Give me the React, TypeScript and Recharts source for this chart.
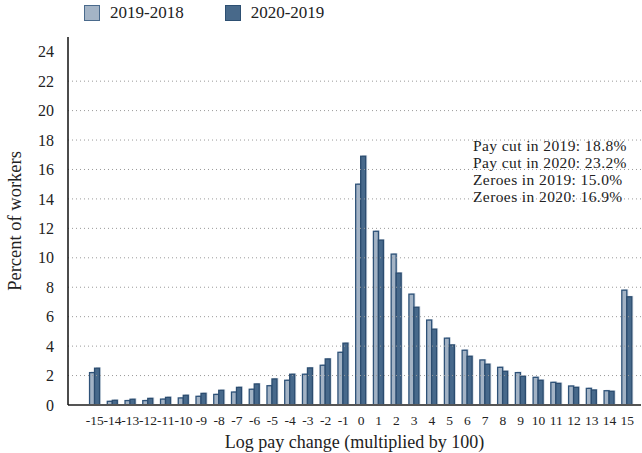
import { BarChart, Bar, XAxis, YAxis, ReferenceLine } from "recharts";

const categories = [
  -15, -14, -13, -12, -11, -10, -9, -8, -7, -6, -5, -4, -3, -2, -1, 0, 1, 2, 3, 4,
  5, 6, 7, 8, 9, 10, 11, 12, 13, 14, 15,
];
const y2019 = [
  2.2, 0.25, 0.3, 0.3, 0.4, 0.48, 0.59, 0.72, 0.88, 1.07, 1.31, 1.68, 2.09, 2.7, 3.58,
  15.0, 11.8, 10.25, 7.53, 5.77, 4.54, 3.72, 3.06, 2.56, 2.2, 1.88, 1.54, 1.29, 1.13,
  0.97, 7.8,
];
const y2020 = [
  2.5, 0.32, 0.39, 0.45, 0.52, 0.66, 0.79, 1.0, 1.2, 1.43, 1.77, 2.09, 2.52, 3.13, 4.2,
  16.9, 11.2, 8.96, 6.64, 5.15, 4.08, 3.31, 2.77, 2.29, 1.95, 1.68, 1.47, 1.2, 1.02,
  0.93, 7.35,
];
const yTicks = [0, 2, 4, 6, 8, 10, 12, 14, 16, 18, 20, 22, 24];
const gridValues = [2, 4, 6, 8, 10, 12, 14, 16, 18, 20, 22];
const notes = [
  "Pay cut in 2019: 18.8%",
  "Pay cut in 2020: 23.2%",
  "Zeroes in 2019: 15.0%",
  "Zeroes in 2020: 16.9%",
];

const data = categories.map((c, i) => ({ cat: String(c), a: y2019[i], b: y2020[i] }));

const FONT = "Liberation Serif";

// bar with a faint offset shadow like the original
function ShadowBar(props: any) {
  const { x, y, width, height, fill, stroke } = props;
  if (!height || height <= 0) return null;
  return (
    <g>
      <rect x={x + 1.5} y={y - 1} width={width} height={height + 1} fill="#d3dbe4" />
      <rect x={x} y={y} width={width} height={height} fill={fill} stroke={stroke} strokeWidth={1.3} />
    </g>
  );
}

export default function App() {
  return (
    <div
      style={{
        position: "absolute",
        left: 0,
        top: 0,
        width: 642,
        height: 453,
        background: "#fff",
        fontFamily: FONT,
      }}
    >
      {/* legend */}
      <div style={{ position: "absolute", left: 84, top: 3, display: "flex", alignItems: "center", fontSize: 17, color: "#222" }}>
        <span style={{ width: 14, height: 14, background: "#a4b4c6", border: "1.5px solid #4a6a8c", marginRight: 10 }} />
        <span style={{ marginRight: 41 }}>2019-2018</span>
        <span style={{ width: 14, height: 14, background: "#48698a", border: "1.5px solid #2d4f72", marginRight: 10 }} />
        <span>2020-2019</span>
      </div>

      <BarChart
        width={642}
        height={453}
        data={data}
        margin={{ top: 37, right: 1, bottom: 0, left: 0 }}
        barCategoryGap="20%"
        barGap={0}
        style={{ fontFamily: FONT }}
      >
        {gridValues.map((v) => (
          <ReferenceLine key={v} y={v} stroke="#9a9a9a" strokeDasharray="1 3" strokeWidth={1} />
        ))}
        <XAxis
          dataKey="cat"
          interval={0}
          height={48}
          padding={{ left: 18, right: 5 }}
          tickLine={false}
          axisLine={{ stroke: "#555", strokeWidth: 2 }}
          tick={{ fontSize: 13.5, fill: "#222" }}
          tickMargin={4}
          label={{
            value: "Log pay change (multiplied by 100)",
            position: "insideBottom",
            offset: 5,
            style: { fontSize: 18, fill: "#222" },
          }}
        />
        <YAxis
          domain={[0, 25]}
          ticks={yTicks}
          width={68}
          tickLine={false}
          axisLine={{ stroke: "#111", strokeWidth: 1.5 }}
          tick={{ fontSize: 16, fill: "#222" }}
          tickMargin={8}
          label={{
            value: "Percent of workers",
            angle: -90,
            position: "insideLeft",
            offset: 14,
            style: { fontSize: 18.5, fill: "#222", textAnchor: "middle" },
          }}
        />
        <Bar dataKey="a" fill="#a3b3c5" stroke="#2e5278" shape={ShadowBar} isAnimationActive={false} />
        <Bar dataKey="b" fill="#47698b" stroke="#2b4c6f" shape={ShadowBar} isAnimationActive={false} />
      </BarChart>

      {/* annotation */}
      <div
        style={{
          position: "absolute",
          left: 473,
          top: 137,
          fontSize: 15.5,
          lineHeight: "17px",
          letterSpacing: "0.4px",
          color: "#222",
        }}
      >
        {notes.map((n) => (
          <div key={n}>{n}</div>
        ))}
      </div>
    </div>
  );
}
